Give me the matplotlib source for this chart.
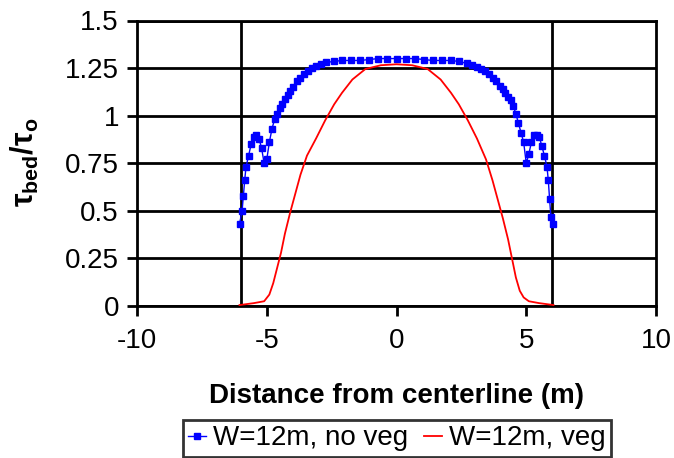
import matplotlib
matplotlib.use("Agg")
import matplotlib.pyplot as plt

plt.rcParams['font.family'] = ['Liberation Sans', 'DejaVu Sans']
plt.rcParams['mathtext.fontset'] = 'custom'
plt.rcParams['mathtext.rm'] = 'Liberation Sans'
plt.rcParams['mathtext.bf'] = 'Liberation Sans:bold'
plt.rcParams['mathtext.it'] = 'Liberation Sans:italic'

# Blue series: W=12m, no veg
x_noveg = [-6.05, -5.95, -5.9, -5.85, -5.8, -5.7, -5.6, -5.5, -5.4, -5.3, -5.2, -5.1,
           -5.0, -4.9, -4.8, -4.7, -4.6, -4.5, -4.4, -4.3, -4.2, -4.1, -4.0, -3.85,
           -3.7, -3.55, -3.4, -3.25, -3.1, -2.9, -2.7, -2.4, -2.1, -1.75, -1.4, -1.05,
           -0.7, -0.35, 0.0, 0.35, 0.7, 1.05, 1.4, 1.75, 2.1, 2.4, 2.7, 2.9, 3.1,
           3.25, 3.4, 3.55, 3.7, 3.85, 4.0, 4.1, 4.2, 4.3, 4.4, 4.5, 4.6, 4.7, 4.8,
           4.9, 5.0, 5.1, 5.2, 5.3, 5.4, 5.5, 5.6, 5.7, 5.8, 5.85, 5.9, 5.95, 6.05]
y_noveg = [0.43, 0.50, 0.58, 0.66, 0.73, 0.79, 0.85, 0.89, 0.90, 0.88, 0.83, 0.75,
           0.77, 0.86, 0.93, 0.98, 1.01, 1.04, 1.06, 1.09, 1.11, 1.13, 1.15, 1.18,
           1.20, 1.22, 1.235, 1.25, 1.26, 1.27, 1.28, 1.285, 1.29, 1.29, 1.29, 1.295,
           1.30, 1.30, 1.30, 1.30, 1.30, 1.295, 1.29, 1.29, 1.29, 1.285, 1.275, 1.265, 1.255,
           1.245, 1.235, 1.22, 1.20, 1.18, 1.155, 1.14, 1.12, 1.10, 1.08, 1.05, 1.01, 0.96,
           0.91, 0.86, 0.75, 0.80, 0.86, 0.90, 0.90, 0.89, 0.84, 0.79, 0.73, 0.66, 0.56, 0.47, 0.43]

# Red series: W=12m, veg
x_veg = [-6.05, -5.5, -5.1, -4.9, -4.75, -4.6, -4.45, -4.3, -4.1, -3.9, -3.7, -3.45,
         -3.1, -2.75, -2.4, -2.1, -1.7, -1.2, -0.6, 0.0, 0.6, 1.2, 1.7, 2.1, 2.4,
         2.75, 3.1, 3.45, 3.7, 3.9, 4.1, 4.3, 4.45, 4.6, 4.75, 4.9, 5.1, 5.5, 6.05]
y_veg = [0.005, 0.015, 0.025, 0.06, 0.12, 0.20, 0.28, 0.38, 0.49, 0.59, 0.69, 0.79,
         0.88, 0.975, 1.06, 1.12, 1.19, 1.245, 1.265, 1.27, 1.265, 1.245, 1.19, 1.12, 1.06,
         0.975, 0.88, 0.77, 0.66, 0.56, 0.46, 0.35, 0.25, 0.15, 0.08, 0.045, 0.025, 0.015, 0.005]

wall_x = [-6, 6]
x_ticks = [-10, -5, 0, 5, 10]
x_ticklabels = ['-10', '-5', '0', '5', '10']
y_ticks = [0, 0.25, 0.5, 0.75, 1, 1.25, 1.5]
y_ticklabels = ['0', '0.25', '0.5', '0.75', '1', '1.25', '1.5']

fig = plt.figure(figsize=(6.74, 4.58), dpi=100)
ax = fig.add_axes([137/674, 1-306/458, (656-137)/674, (306-20.5)/458])

lw = 2.0
for yv in y_ticks:
    ax.axhline(yv, color='black', lw=lw, zorder=1)
for xv in wall_x:
    ax.axvline(xv, color='black', lw=lw, zorder=1)

ax.plot(x_noveg, y_noveg, color='blue', lw=1.0, marker='s', ms=4.2, mec='blue', mfc='blue',
        zorder=3, label='W=12m, no veg')
ax.plot(x_veg, y_veg, color='red', lw=1.3, zorder=3, label='W=12m, veg')

ax.set_xlim(-10, 10)
ax.set_ylim(0, 1.5)
ax.set_xticks(x_ticks)
ax.set_xticklabels(x_ticklabels)
ax.set_yticks(y_ticks)
ax.set_yticklabels(y_ticklabels)
ax.tick_params(axis='both', direction='out', length=7, width=lw, labelsize=20, colors='black')
ax.tick_params(axis='x', pad=9)
ax.tick_params(axis='y', pad=6)
for s in ax.spines.values():
    s.set_linewidth(lw)
    s.set_color('black')

fig.text(396.5/674, 1-403/458, 'Distance from centerline (m)', ha='center', va='baseline',
         fontsize=20, fontweight='bold')
fig.text(25/674, 1-162/458, r'$\mathbf{\tau_{bed}/\tau_o}$', rotation=90, ha='center', va='center',
         fontsize=22)

leg = fig.legend(loc='center', bbox_to_anchor=(396.7/674, 1-438.3/458), ncol=2, fontsize=20,
                 frameon=True, fancybox=False, handlelength=0.65, handletextpad=0.25,
                 columnspacing=0.55, borderpad=0.2, borderaxespad=0)
leg.get_frame().set_edgecolor('black')
leg.get_frame().set_linewidth(lw)

fig.savefig('out.png', dpi=100)
